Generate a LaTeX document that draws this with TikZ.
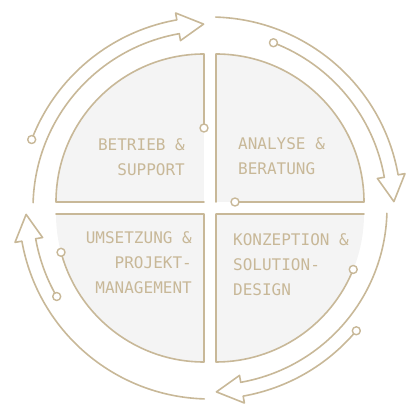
\documentclass[tikz,border=0pt]{standalone}
\usepackage{fontspec}
\newfontfamily\lcdfont{DejaVu Sans Mono}
\definecolor{sand}{RGB}{200,184,152}
\definecolor{panel}{RGB}{244,244,244}

\begin{document}
\begin{tikzpicture}[x=1pt, y=1pt, line join=round, line cap=round,
    rim/.style={draw=sand, line width=1.6pt},
    pinhole/.style={draw=sand, line width=1.4pt, fill=white},
    phase/.style={text=sand, inner sep=0pt, font=\lcdfont\fontsize{16}{25}\selectfont}]
    \useasboundingbox (-210,-212) rectangle (210,208);
    % four quarter panels
    \foreach \sx/\sy/\a in {-1/1/90, 1/1/0, -1/-1/180, 1/-1/270} {
        \fill[panel] (\sx*6,\sy*6) -- ++(\a:148) arc[start angle=\a, delta angle=90, radius=148] -- cycle;
    }
    \draw[rim, shift={(-6,6)}] (0,74) -- (0,148) arc[start angle=90, end angle=180, radius=148] -- (0,0);
    \draw[rim, shift={(6,6)}] (19,0) -- (148,0) arc[start angle=0, end angle=90, radius=148] -- (0,0);
    \draw[rim, shift={(-6,-6)}] (195:148) arc[start angle=195, end angle=270, radius=148] -- (0,0) -- (-148,0);
    \draw[rim, shift={(6,-6)}] (-22:148) arc[start angle=-22, end angle=-90, radius=148] -- (0,0) -- (148,0);
    \draw[pinhole, shift={(-6,6)}] (0,74) circle[radius=4];
    \draw[pinhole, shift={(6,6)}] (19,0) circle[radius=4];
    \draw[pinhole, shift={(-6,-6)}] (195:148) circle[radius=4];
    \draw[pinhole, shift={(6,-6)}] (-22:148) circle[radius=4];
    % cycle arrows
    \foreach \a/\rl/\rs/\s in {90/177/191/69, 0/191/177/69, -90/177/191/50, 180/191/177/30} {
        \pgfmathsetmacro\wl{2*\rl-184}
        \pgfmathsetmacro\ws{2*\rs-184}
        \draw[rim] ({\a+88.3}:\rl) arc[start angle=\a+88.3, end angle=\a+10, radius=\rl]
            -- ({\a+10}:\wl) -- ({\a+2}:184) -- ({\a+10}:\ws) -- ({\a+10}:\rs)
            arc[start angle=\a+10, end angle=\a+\s, radius=\rs];
        \draw[pinhole] ({\a+\s}:\rs) circle[radius=4];
    }
    % labels
    \node[phase, anchor=north east, align=right] (betrieb) at (-25,70) {BETRIEB \&\\SUPPORT};
    \node[phase, anchor=north west, align=left] (analyse) at (28,71) {ANALYSE \&\\BERATUNG};
    \node[phase, anchor=north east, align=right] (umsetzung) at (-18,-23) {UMSETZUNG \&\\PROJEKT-\\MANAGEMENT};
    \node[phase, anchor=north west, align=left] (konzeption) at (23,-25) {KONZEPTION \&\\SOLUTION-\\DESIGN};
\end{tikzpicture}
\end{document}
